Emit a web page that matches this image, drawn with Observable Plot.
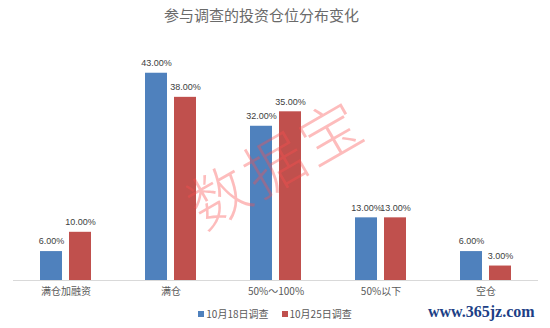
<!DOCTYPE html>
<html><head><meta charset="utf-8">
<script src="https://cdn.jsdelivr.net/npm/d3@7"></script>
<script src="https://cdn.jsdelivr.net/npm/@observablehq/plot@0.6"></script>
<style>
body{margin:0;width:550px;height:328px;position:relative;overflow:hidden;background:#fff;font-family:"Noto Sans CJK SC",sans-serif}
#title{height:30px;line-height:30px;text-align:center;font-size:15px;color:#6a6a6a;padding-right:27px}
#chart svg{display:block}
#legend{position:absolute;top:306px;left:0;width:550px;display:flex;justify-content:center;gap:13px;font-size:10px;color:#595959;line-height:16px}
#legend span.sw{display:inline-block;width:6px;height:6px;margin-right:2px;vertical-align:1px}
#wm{position:absolute;left:274px;top:160px;transform:translate(-50%,-50%) rotate(-30deg);font-size:60px;color:rgba(250,80,80,0.38);font-weight:300;letter-spacing:4px;white-space:nowrap;pointer-events:none}
#site{position:absolute;left:428px;top:302px;font-family:"Liberation Serif",serif;font-weight:bold;font-size:16px;color:#1d3f86;white-space:nowrap;line-height:20px}
</style></head>
<body>
<div id="title">参与调查的投资仓位分布变化</div>
<div id="chart"></div>
<div id="legend"></div>
<div id="wm">数据宝</div>
<div id="site">www.365jz.com</div>
<script>
const categories = ["满仓加融资","满仓","50%～100%","50%以下","空仓"];
const series = ["10月18日调查","10月25日调查"];
const oct18 = [6,43,32,13,6];
const oct25 = [10,38,35,13,3];
const colors = ["#4F81BD","#C0504D"];

const rows = categories.flatMap((c,i)=>[
  {category:c, series:series[0], value:oct18[i]},
  {category:c, series:series[1], value:oct25[i]}
]);

const chart = Plot.plot({
  width:550, height:272,
  marginTop:9, marginBottom:22, marginLeft:11, marginRight:10,
  style:{fontFamily:'"Noto Sans CJK SC",sans-serif', fontSize:"10px", color:"#595959", background:"transparent"},
  fx:{domain:categories, padding:0, label:null, axis:"bottom", tickSize:0, tickPadding:7},
  x:{domain:series, axis:null, paddingInner:0.233, paddingOuter:0.88},
  y:{domain:[0,50], axis:null},
  color:{domain:series, range:colors},
  marks:[
    Plot.barY(rows,{fx:"category", x:"series", y:"value", fill:"series"}),
    Plot.ruleY([0],{stroke:"#d9d9d9"}),
    Plot.text(rows,{fx:"category", x:"series", y:"value", text:d=>d.value.toFixed(2)+"%", dy:-10, fill:"#404040", fontSize:9, fontFamily:'"Liberation Sans",Arial,sans-serif'})
  ]
});
document.getElementById("chart").appendChild(chart);

const legend = document.getElementById("legend");
series.forEach((s,i)=>{
  const e=document.createElement("div");
  e.innerHTML=`<span class="sw" style="background:${colors[i]}"></span>${s}`;
  legend.appendChild(e);
});
</script>
</body></html>
